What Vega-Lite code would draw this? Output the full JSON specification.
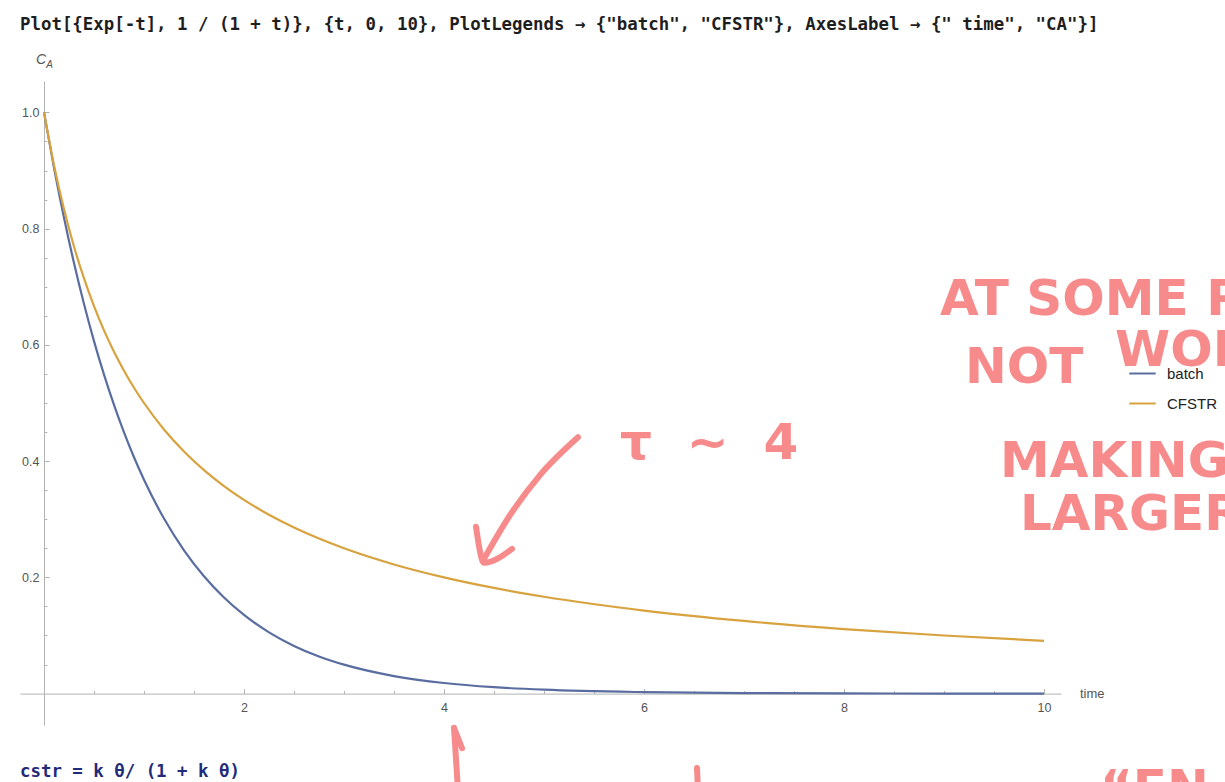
{
  "$schema": "https://vega.github.io/schema/vega-lite/v6.json",
  "width": 1041,
  "height": 644,
  "autosize": {"type": "none"},
  "padding": {"left": 20, "top": 81, "right": 164, "bottom": 57},
  "background": "#ffffff",
  "config": {
    "view": {"stroke": null},
    "axis": {"grid": false, "domainColor": "#b3b3b3", "tickColor": "#b3b3b3", "labelColor": "#555555", "labelFont": "Liberation Sans", "labelFontSize": 12.5, "title": null}
  },
  "datasets": {
    "curves": [
      {"t": 0, "c": 1, "s": "batch"},
      {"t": 0.1, "c": 0.9048, "s": "batch"},
      {"t": 0.2, "c": 0.8187, "s": "batch"},
      {"t": 0.3, "c": 0.7408, "s": "batch"},
      {"t": 0.4, "c": 0.6703, "s": "batch"},
      {"t": 0.5, "c": 0.6065, "s": "batch"},
      {"t": 0.6, "c": 0.5488, "s": "batch"},
      {"t": 0.7, "c": 0.4966, "s": "batch"},
      {"t": 0.8, "c": 0.4493, "s": "batch"},
      {"t": 0.9, "c": 0.4066, "s": "batch"},
      {"t": 1.0, "c": 0.3679, "s": "batch"},
      {"t": 1.2, "c": 0.3012, "s": "batch"},
      {"t": 1.4, "c": 0.2466, "s": "batch"},
      {"t": 1.6, "c": 0.2019, "s": "batch"},
      {"t": 1.8, "c": 0.1653, "s": "batch"},
      {"t": 2.0, "c": 0.1353, "s": "batch"},
      {"t": 2.25, "c": 0.1054, "s": "batch"},
      {"t": 2.5, "c": 0.0821, "s": "batch"},
      {"t": 2.75, "c": 0.0639, "s": "batch"},
      {"t": 3.0, "c": 0.0498, "s": "batch"},
      {"t": 3.5, "c": 0.0302, "s": "batch"},
      {"t": 4.0, "c": 0.0183, "s": "batch"},
      {"t": 4.5, "c": 0.0111, "s": "batch"},
      {"t": 5.0, "c": 0.0067, "s": "batch"},
      {"t": 6.0, "c": 0.0025, "s": "batch"},
      {"t": 7.0, "c": 0.0009, "s": "batch"},
      {"t": 8.0, "c": 0.0003, "s": "batch"},
      {"t": 9.0, "c": 0.0001, "s": "batch"},
      {"t": 10.0, "c": 0.00005, "s": "batch"},
      {"t": 0, "c": 1, "s": "CFSTR"},
      {"t": 0.1, "c": 0.9091, "s": "CFSTR"},
      {"t": 0.2, "c": 0.8333, "s": "CFSTR"},
      {"t": 0.3, "c": 0.7692, "s": "CFSTR"},
      {"t": 0.4, "c": 0.7143, "s": "CFSTR"},
      {"t": 0.5, "c": 0.6667, "s": "CFSTR"},
      {"t": 0.6, "c": 0.625, "s": "CFSTR"},
      {"t": 0.7, "c": 0.5882, "s": "CFSTR"},
      {"t": 0.8, "c": 0.5556, "s": "CFSTR"},
      {"t": 0.9, "c": 0.5263, "s": "CFSTR"},
      {"t": 1.0, "c": 0.5, "s": "CFSTR"},
      {"t": 1.2, "c": 0.4545, "s": "CFSTR"},
      {"t": 1.4, "c": 0.4167, "s": "CFSTR"},
      {"t": 1.6, "c": 0.3846, "s": "CFSTR"},
      {"t": 1.8, "c": 0.3571, "s": "CFSTR"},
      {"t": 2.0, "c": 0.3333, "s": "CFSTR"},
      {"t": 2.25, "c": 0.3077, "s": "CFSTR"},
      {"t": 2.5, "c": 0.2857, "s": "CFSTR"},
      {"t": 2.75, "c": 0.2667, "s": "CFSTR"},
      {"t": 3.0, "c": 0.25, "s": "CFSTR"},
      {"t": 3.5, "c": 0.2222, "s": "CFSTR"},
      {"t": 4.0, "c": 0.2, "s": "CFSTR"},
      {"t": 4.5, "c": 0.1818, "s": "CFSTR"},
      {"t": 5.0, "c": 0.1667, "s": "CFSTR"},
      {"t": 6.0, "c": 0.1429, "s": "CFSTR"},
      {"t": 7.0, "c": 0.125, "s": "CFSTR"},
      {"t": 8.0, "c": 0.1111, "s": "CFSTR"},
      {"t": 9.0, "c": 0.1, "s": "CFSTR"},
      {"t": 10.0, "c": 0.0909, "s": "CFSTR"}
    ],
    "strokes": [
      {"id": "a1", "k": 0, "t": 5.34, "c": 0.441},
      {"id": "a1", "k": 1, "t": 4.96, "c": 0.376},
      {"id": "a1", "k": 2, "t": 4.66, "c": 0.307},
      {"id": "a1", "k": 3, "t": 4.40, "c": 0.232},
      {"id": "a2", "k": 0, "t": 4.32, "c": 0.287},
      {"id": "a2", "k": 1, "t": 4.40, "c": 0.225},
      {"id": "a2", "k": 2, "t": 4.68, "c": 0.249},
      {"id": "b1", "k": 0, "t": 4.14, "c": -0.166},
      {"id": "b1", "k": 1, "t": 4.10, "c": -0.059},
      {"id": "b2", "k": 0, "t": 4.10, "c": -0.059},
      {"id": "b2", "k": 1, "t": 4.18, "c": -0.094},
      {"id": "m1", "k": 0, "t": 6.53, "c": -0.128},
      {"id": "m1", "k": 1, "t": 6.54, "c": -0.166}
    ],
    "notes": [
      {"t": 8.96, "c": 0.677, "txt": "AT SOME POINT"},
      {"t": 9.21, "c": 0.561, "txt": "NOT"},
      {"t": 10.71, "c": 0.59, "txt": "WORTH"},
      {"t": 9.56, "c": 0.398, "txt": "MAKING τ"},
      {"t": 9.76, "c": 0.307, "txt": "LARGER."},
      {"t": 5.76, "c": 0.43, "txt": "τ\u00a0\u00a0~\u00a0\u00a04"},
      {"t": 10.56, "c": -0.165, "txt": "“EN"}
    ]
  },
  "resolve": {"axis": {"x": "independent", "y": "independent"}},
  "layer": [
    {
      "data": {"name": "curves"},
      "mark": {"type": "line", "strokeWidth": 2.2, "interpolate": "monotone", "clip": false},
      "encoding": {
        "x": {"field": "t", "type": "quantitative", "scale": {"domain": [-0.24, 10.17], "nice": false, "zero": false},
          "axis": {"orient": "bottom", "offset": -31.4, "values": [2, 4, 6, 8, 10], "tickSize": -5, "labelPadding": 13}},
        "y": {"field": "c", "type": "quantitative", "scale": {"domain": [-0.054, 1.054], "nice": false, "zero": false},
          "axis": {"orient": "left", "offset": -24, "values": [0.2, 0.4, 0.6, 0.8, 1.0], "format": ".1f", "tickSize": -5, "labelPadding": 10}},
        "color": {"field": "s", "type": "nominal",
          "scale": {"domain": ["batch", "CFSTR"], "range": ["#5a6da1", "#d8a23e"]},
          "legend": {"orient": "none", "legendX": 1108, "legendY": 278, "title": null, "symbolType": "stroke", "symbolSize": 700, "symbolStrokeWidth": 2, "labelFont": "Liberation Sans", "labelFontSize": 15, "labelColor": "#222222", "labelOffset": 10, "rowPadding": 7}
        }
      }
    },
    {
      "data": {"name": "strokes"},
      "mark": {"type": "line", "color": "#f78b8b", "strokeWidth": 6, "strokeCap": "round", "strokeJoin": "round", "interpolate": "monotone", "clip": false},
      "encoding": {
        "x": {"field": "t", "type": "quantitative",
          "axis": {"orient": "bottom", "offset": -31.4, "values": [0.5, 1, 1.5, 2.5, 3, 3.5, 4.5, 5, 5.5, 6.5, 7, 7.5, 8.5, 9, 9.5], "tickSize": -3, "labels": false, "domain": false}},
        "y": {"field": "c", "type": "quantitative",
          "axis": {"orient": "left", "offset": -24, "values": [0.05, 0.1, 0.15, 0.25, 0.3, 0.35, 0.45, 0.5, 0.55, 0.65, 0.7, 0.75, 0.85, 0.9, 0.95], "tickSize": -3, "labels": false, "domain": false}},
        "detail": {"field": "id"},
        "order": {"field": "k"}
      }
    },
    {
      "data": {"name": "notes"},
      "mark": {"type": "text", "align": "left", "baseline": "middle", "font": "DejaVu Sans", "fontWeight": "bold", "fontSize": 50, "color": "#f78b8b"},
      "encoding": {
        "x": {"field": "t", "type": "quantitative", "axis": null},
        "y": {"field": "c", "type": "quantitative", "axis": null},
        "text": {"field": "txt"}
      }
    },
    {
      "data": {"values": [{"t": 10.36, "c": 0, "txt": "time"}]},
      "mark": {"type": "text", "align": "left", "baseline": "middle", "font": "Liberation Sans", "fontSize": 13, "color": "#555555"},
      "encoding": {
        "x": {"field": "t", "type": "quantitative", "axis": null},
        "y": {"field": "c", "type": "quantitative", "axis": null},
        "text": {"field": "txt"}
      }
    },
    {
      "data": {"values": [{"t": -0.03, "c": 1.09, "txt": "C"}]},
      "mark": {"type": "text", "align": "center", "baseline": "middle", "font": "Liberation Sans", "fontStyle": "italic", "fontSize": 14, "color": "#555555"},
      "encoding": {
        "x": {"field": "t", "type": "quantitative", "axis": null},
        "y": {"field": "c", "type": "quantitative", "axis": null},
        "text": {"field": "txt"}
      }
    },
    {
      "data": {"values": [{"t": 0.055, "c": 1.082, "txt": "A"}]},
      "mark": {"type": "text", "align": "center", "baseline": "middle", "font": "Liberation Sans", "fontStyle": "italic", "fontSize": 10, "color": "#555555"},
      "encoding": {
        "x": {"field": "t", "type": "quantitative", "axis": null},
        "y": {"field": "c", "type": "quantitative", "axis": null},
        "text": {"field": "txt"}
      }
    },
    {
      "data": {"values": [
        {"t": -0.24, "c": 1.15, "txt": "Plot[{Exp[-t], 1 / (1 + t)}, {t, 0, 10}, PlotLegends → {\"batch\", \"CFSTR\"}, AxesLabel → {\" time\", \"CA\"}]"}
      ]},
      "mark": {"type": "text", "align": "left", "baseline": "middle", "font": "DejaVu Sans Mono", "fontWeight": "bold", "fontSize": 17.4, "color": "#1e1e1e"},
      "encoding": {
        "x": {"field": "t", "type": "quantitative", "axis": null},
        "y": {"field": "c", "type": "quantitative", "axis": null},
        "text": {"field": "txt"}
      }
    },
    {
      "data": {"values": [
        {"t": -0.24, "c": -0.135, "txt": "cstr = k θ/ (1 + k θ)"}
      ]},
      "mark": {"type": "text", "align": "left", "baseline": "middle", "font": "DejaVu Sans Mono", "fontWeight": "bold", "fontSize": 17.4, "color": "#222a7a"},
      "encoding": {
        "x": {"field": "t", "type": "quantitative", "axis": null},
        "y": {"field": "c", "type": "quantitative", "axis": null},
        "text": {"field": "txt"}
      }
    }
  ]
}
